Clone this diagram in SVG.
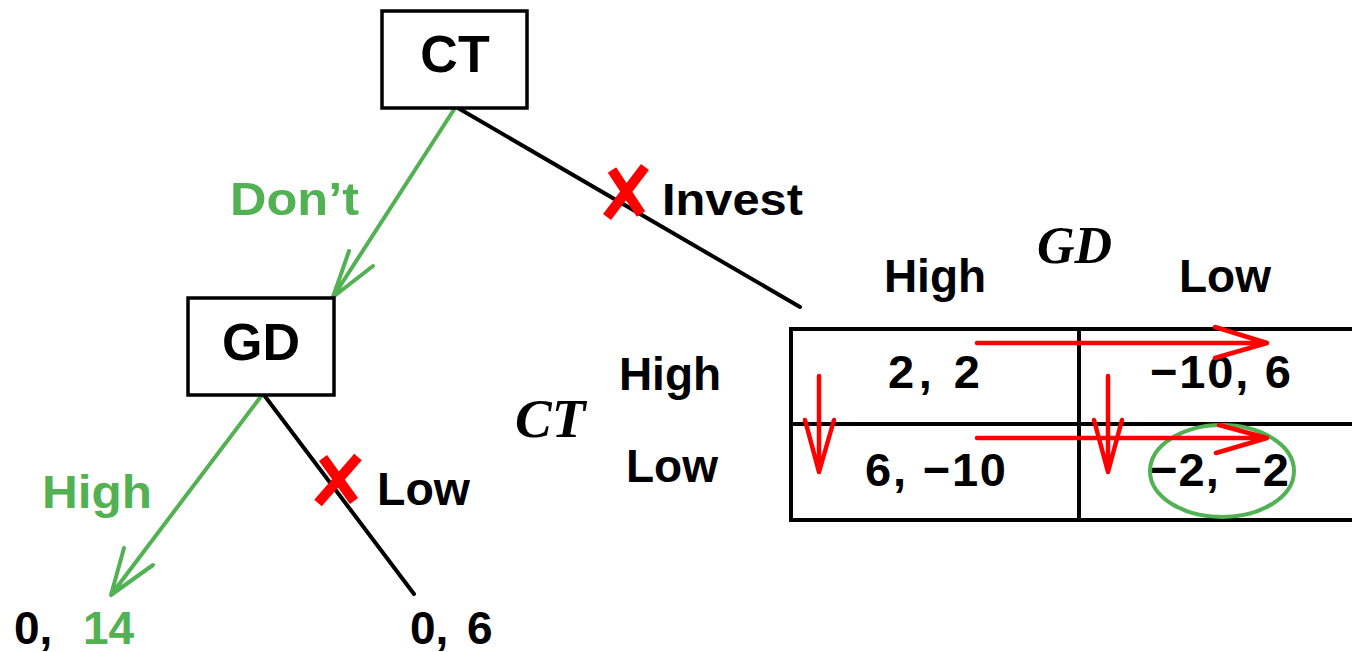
<svg xmlns="http://www.w3.org/2000/svg" width="1352" height="652" viewBox="0 0 1352 652">
<style>
.t{font-family:"Liberation Sans",Arial,sans-serif;font-weight:bold;fill:#000}
.g{fill:#52b152}
.it{font-family:"Liberation Serif","Times New Roman",serif;font-style:italic;font-weight:bold;fill:#000}
.box{fill:#fff;stroke:#000;stroke-width:3.5}
.bl{stroke:#000;stroke-width:4;fill:none;stroke-linecap:round}
.gl{stroke:#52b152;stroke-width:4;fill:none;stroke-linecap:round;stroke-linejoin:round}
.rd{stroke:#ff0000;stroke-width:4.5;fill:none;stroke-linecap:round;stroke-linejoin:round}
.x{stroke:#ff0000;stroke-width:10;fill:none;stroke-linecap:butt}
.grid{stroke:#000;stroke-width:4;fill:none}
</style>
<rect width="1352" height="652" fill="#fff"/>
<g id="connectors">
<line class="bl" x1="458" y1="108" x2="800" y2="307"/>
<line class="bl" x1="264" y1="395" x2="414" y2="594"/>
<path class="gl" d="M455 108 L333 297 M349 251 L333 297 L373 266"/>
<path class="gl" d="M262 395 L111 595 M124 548 L111 595 L153 565"/>
<line class="x" x1="612" y1="170" x2="641" y2="214"/>
<line class="x" x1="645" y1="167" x2="607" y2="217"/>
<line class="x" x1="323" y1="458" x2="354" y2="501"/>
<line class="x" x1="358" y1="457" x2="318" y2="503"/>
<text class="t g" x="230" y="215" font-size="46" textLength="129" lengthAdjust="spacingAndGlyphs">Don’t</text>
<text class="t" x="662" y="215" font-size="44" textLength="141" lengthAdjust="spacingAndGlyphs">Invest</text>
<text class="t g" x="42" y="508" font-size="46" textLength="110" lengthAdjust="spacingAndGlyphs">High</text>
<text class="t" x="377" y="505" font-size="46" textLength="93" lengthAdjust="spacingAndGlyphs">Low</text>
</g>
<g id="node-CT">
<rect class="box" x="382" y="11" width="145" height="97"/>
<text class="t" x="455" y="72" font-size="52" text-anchor="middle">CT</text>
</g>
<g id="node-GD">
<rect class="box" x="188" y="298" width="146" height="97"/>
<text class="t" x="261" y="360" font-size="52" text-anchor="middle">GD</text>
</g>
<g id="leaf-left">
<text class="t" x="14" y="644" font-size="46">0,<tspan class="g" x="83">14</tspan></text>
</g>
<g id="leaf-right">
<text class="t" x="410" y="644" font-size="46">0,<tspan x="467">6</tspan></text>
</g>
<g id="table">
<path class="grid" d="M1352 329 H791 V520 H1352 M791 424 H1352 M1079 329 V520"/>
<text class="it" x="1037" y="263" font-size="52">GD</text>
<text class="t" x="935" y="292" font-size="46" text-anchor="middle">High</text>
<text class="t" x="1225" y="292" font-size="46" text-anchor="middle">Low</text>
<text class="it" x="515" y="437" font-size="55">CT</text>
<text class="t" x="670" y="390" font-size="46" text-anchor="middle">High</text>
<text class="t" x="672" y="482" font-size="46" text-anchor="middle">Low</text>
<text class="t" x="888" y="388" font-size="47" textLength="92" lengthAdjust="spacing">2, 2</text>
<text class="t" x="1150" y="388" font-size="47" textLength="141" lengthAdjust="spacing">−10, 6</text>
<text class="t" x="865" y="486" font-size="47" textLength="141" lengthAdjust="spacing">6, −10</text>
<text class="t" x="1150" y="486" font-size="47" textLength="139" lengthAdjust="spacing">−2, −2</text>
<ellipse cx="1222" cy="471" rx="72" ry="46" fill="none" stroke="#52b152" stroke-width="4"/>
<path class="rd" d="M977 343 H1267 M1215 327 L1267 343 L1215 358"/>
<path class="rd" d="M977 438 H1267 M1219 425 L1267 438 L1216 453"/>
<path class="rd" d="M819 376 V472 M805 420 L819 472 L834 420"/>
<path class="rd" d="M1108 376 V472 M1094 420 L1108 472 L1122 420"/>
</g>
</svg>
